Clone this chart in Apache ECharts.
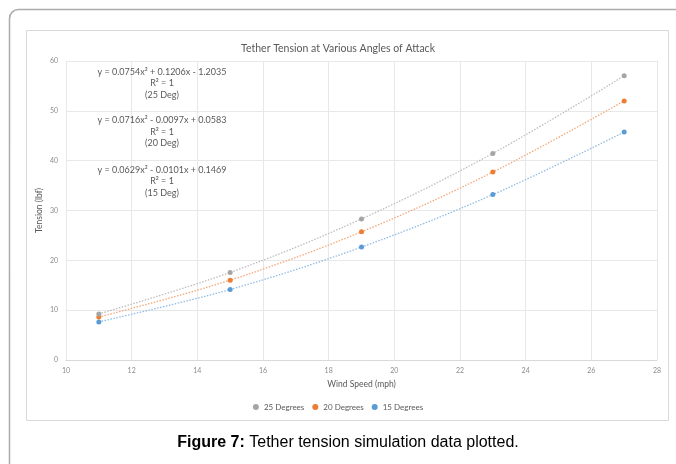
<!DOCTYPE html>
<html>
<head>
<meta charset="utf-8">
<script src="https://cdn.jsdelivr.net/npm/echarts@6/dist/echarts.min.js"></script>
<style>
html,body{margin:0;padding:0;background:#fff;}
#c{width:676px;height:464px;}
</style>
</head>
<body>
<div id="c"></div>
<script>
var windSpeed = [11, 15, 19, 23, 27];
var deg25 = [9.25, 17.57, 28.31, 41.46, 57.02];
var deg20 = [8.62, 16.02, 25.72, 37.71, 51.99];
var deg15 = [7.65, 14.15, 22.66, 33.19, 45.73];
var xTicks = {min: 10, max: 28, interval: 2};
var yTicks = {min: 0, max: 60, interval: 10};
var seriesNames = ['25 Degrees', '20 Degrees', '15 Degrees'];
var equations = [
  ['y = 0.0754x² + 0.1206x - 1.2035', 'R² = 1', '(25 Deg)'],
  ['y = 0.0716x² - 0.0097x + 0.0583', 'R² = 1', '(20 Deg)'],
  ['y = 0.0629x² - 0.0101x + 0.1469', 'R² = 1', '(15 Deg)']
];

var colors = ['#A5A5A5', '#ED7D31', '#5B9BD5'];
var lineColors = ['#BDBDBD', '#F4A87A', '#8FBCE6'];
var font = 'Lato';

function pairs(ys){ return windSpeed.map(function(x,i){return [x, ys[i]];}); }
var allData = [deg25, deg20, deg15];

var chart = echarts.init(document.getElementById('c'));

var graphics = [
  {type:'rect', shape:{x:9.5, y:9.5, width:700, height:500, r:9}, style:{fill:'none', stroke:'#ABABAB', lineWidth:1.5}, silent:true, z:-10},
  {type:'rect', shape:{x:26.5, y:30.5, width:642, height:390}, style:{fill:'#fff', stroke:'#D9D9D9', lineWidth:1}, silent:true, z:-9}
];
var eqY = [72, 120.5, 170];
equations.forEach(function(lines, b){
  lines.forEach(function(t, i){
    graphics.push({type:'text', x:162, y:eqY[b] + i*11.5,
      style:{text:t, fill:'#595959', font:'9px ' + font, align:'center', verticalAlign:'middle'}, z:100});
  });
});
graphics.push({type:'text', x:348, y:443,
  style:{text:'{b|Figure 7:} Tether tension simulation data plotted.',
    rich:{b:{fontWeight:'bold', fontSize:16, fontFamily:'Liberation Sans', fill:'#000'}},
    font:'16px Liberation Sans', fill:'#000', align:'center', verticalAlign:'middle'}, z:100});

chart.setOption({
  animation:false,
  color: colors,
  title:{text:'Tether Tension at Various Angles of Attack', left:'center', top:38,
    textStyle:{fontFamily:font, fontSize:10.5, fontWeight:'normal', color:'#595959'}},
  legend:{bottom:48, left:'center', itemWidth:6, itemHeight:6, itemGap:8, icon:'circle',
    textStyle:{fontFamily:font, fontSize:8, color:'#595959'}, data:seriesNames},
  grid:{left:66, right:19, top:61, bottom:104, containLabel:false},
  xAxis:{type:'value', min:xTicks.min, max:xTicks.max, interval:xTicks.interval,
    name:'Wind Speed (mph)', nameLocation:'middle', nameGap:20,
    nameTextStyle:{fontFamily:font, fontSize:8.5, color:'#595959'},
    axisLine:{show:true, lineStyle:{color:'#D9D9D9'}}, axisTick:{show:false},
    axisLabel:{fontFamily:font, fontSize:7, color:'#8C8C8C', margin:7},
    splitLine:{show:true, lineStyle:{color:'#E8E8E8'}}},
  yAxis:{type:'value', min:yTicks.min, max:yTicks.max, interval:yTicks.interval,
    name:'Tension (lbf)', nameLocation:'middle', nameGap:22, nameMoveOverlap:false,
    nameTextStyle:{fontFamily:font, fontSize:8.5, color:'#595959'},
    axisLine:{show:false}, axisTick:{show:false},
    axisLabel:{fontFamily:font, fontSize:7, color:'#8C8C8C', margin:8},
    splitLine:{show:true, lineStyle:{color:'#E8E8E8'}}},
  graphic: graphics,
  series: seriesNames.map(function(n, i){
    return {name:n, type:'line', data:pairs(allData[i]), smooth:0.35,
      symbol:'circle', symbolSize:5, showSymbol:true,
      itemStyle:{color:colors[i]},
      lineStyle:{color:lineColors[i], width:1.3, type:[1.5,1.5]}, z:10-i};
  })
});
</script>
</body>
</html>
